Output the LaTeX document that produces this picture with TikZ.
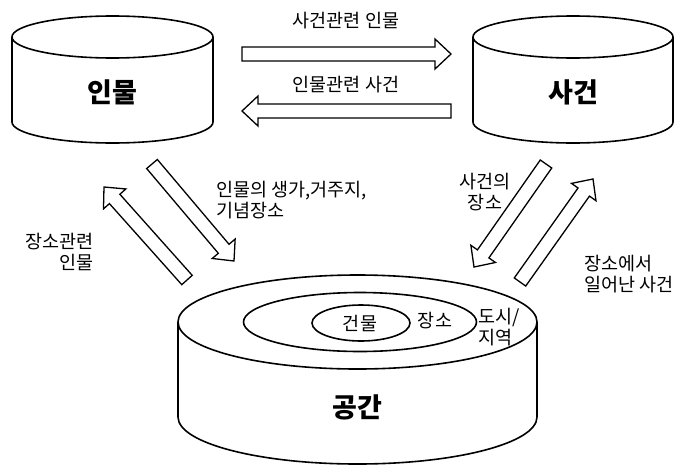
\documentclass[tikz,border=0pt]{standalone}
\usepackage{fontspec}
\newfontfamily\kr{Noto Sans CJK KR}
\usetikzlibrary{calc}
\tikzset{
  lbl/.style={font=\kr\fontsize{18.5}{21}\selectfont, inner sep=0pt},
  bigl/.style={font=\kr\bfseries\fontsize{27}{30}\selectfont, inner sep=0pt},
  cyl/.style={draw, line width=1.6pt, fill=white},
  ring/.style={draw, line width=1.6pt},
  blk/.style={draw, line width=1.3pt, fill=white, line join=miter},
}
\newcommand\baBW{7pt}
\newcommand\baHW{15pt}
\newcommand\baHL{16pt}
% block arrow from #1 (tail centre) to #2 (tip)
\newcommand\blockarr[2]{%
  \coordinate (ba-h) at ($(#2)!\baHL!(#1)$);
  \draw[blk] ($(#1)!\baBW!90:(#2)$) -- ($(ba-h)!\baBW!-90:(#1)$)
    -- ($(ba-h)!\baHW!-90:(#1)$) -- (#2) -- ($(ba-h)!\baHW!90:(#1)$)
    -- ($(ba-h)!\baBW!90:(#1)$) -- ($(#1)!\baBW!-90:(#2)$) -- cycle;}
% cylinder: cx, ytop, ybottom, rx, ry
\newcommand\cylinderdraw[5]{%
  \draw[cyl] (#1-#4,#2) -- (#1-#4,#3)
    arc[start angle=180, end angle=360, x radius=#4pt, y radius=#5pt] -- (#1+#4,#2);
  \draw[cyl] (#1,#2) ellipse[x radius=#4pt, y radius=#5pt];}
\begin{document}
\begin{tikzpicture}[x=1pt, y=-1pt]
\useasboundingbox (0,0) rectangle (679,466);

% cylinders
\cylinderdraw{112.5}{37}{122}{100.5}{21}
\cylinderdraw{573}{37}{122}{100}{21}
\cylinderdraw{357.5}{322}{417}{179.5}{47}
\draw[ring] (360,322) ellipse[x radius=116.5pt, y radius=29.5pt];
\draw[ring] (361,323) ellipse[x radius=49pt, y radius=18pt];

\node[bigl] (person) at (112.5,92) {인물};
\node[bigl] (event) at (573,92) {사건};
\node[bigl] (space) at (357,407) {공간};
\node[lbl] (bldg) at (360,323) {건물};
\node[lbl] (place) at (435,321) {장소};
\node[lbl, align=left] (city) at (499,327) {도시/\\지역};

% arrow end points
\coordinate (h1t) at (242,54);  \coordinate (h1h) at (451,54);
\coordinate (h2t) at (451,111); \coordinate (h2h) at (242,111);
\coordinate (d1t) at (152,164); \coordinate (d1h) at (234,261);
\coordinate (d2t) at (187,280); \coordinate (d2h) at (104,187);
\coordinate (d3t) at (546,164); \coordinate (d3h) at (474,267);
\coordinate (d4t) at (520,282); \coordinate (d4h) at (593,179);

\blockarr{h1t}{h1h}
\blockarr{h2t}{h2h}
\blockarr{d1t}{d1h}
\blockarr{d2t}{d2h}
\blockarr{d3t}{d3h}
\blockarr{d4t}{d4h}

% labels
\node[lbl] (l1) at (346,21) {사건관련 인물};
\node[lbl] (l2) at (346,85) {인물관련 사건};
\node[lbl, anchor=west, align=left] (l3) at (216,200) {인물의 생가,거주지,\\기념장소};
\node[lbl, anchor=east, align=right] (l4) at (94,252) {장소관련\\인물};
\node[lbl, align=center] (l5) at (485,192) {사건의\\장소};
\node[lbl, anchor=west, align=left] (l6) at (584,274) {장소에서\\일어난 사건};
\end{tikzpicture}
\end{document}
